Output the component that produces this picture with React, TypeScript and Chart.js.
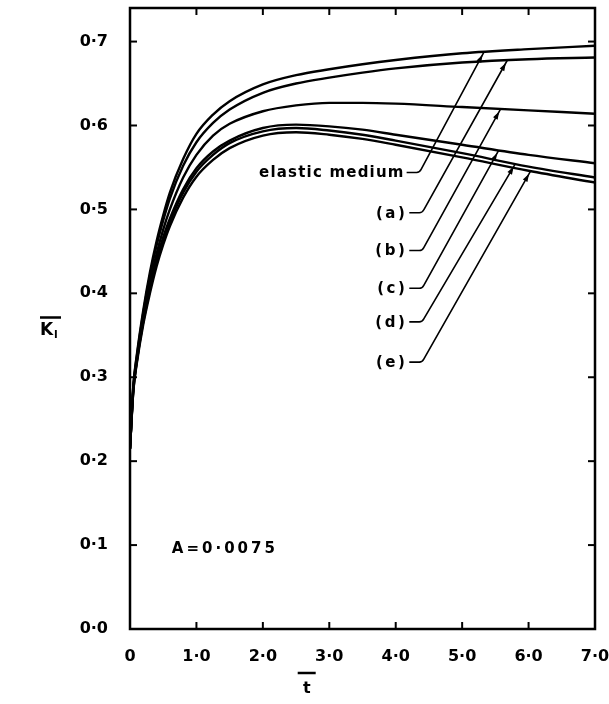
import React, { useEffect, useRef } from 'react';
import { Chart, registerables } from 'chart.js';

Chart.register(...registerables);

// ---- data ----
const T = [0, 0.05, 0.1, 0.2, 0.3, 0.4, 0.5, 0.6, 0.8, 1.0, 1.25, 1.5, 2.0, 2.5, 3.0, 3.5, 4.0, 5.0, 6.0, 7.0];
const elasticMedium = [0.215, 0.29, 0.325, 0.38, 0.425, 0.462, 0.493, 0.52, 0.56, 0.59, 0.613, 0.629, 0.649, 0.66, 0.667, 0.673, 0.678, 0.686, 0.691, 0.695];
const seriesA = [0.215, 0.289, 0.323, 0.377, 0.421, 0.457, 0.487, 0.513, 0.552, 0.58, 0.603, 0.619, 0.639, 0.65, 0.657, 0.663, 0.668, 0.675, 0.679, 0.681];
const seriesB = [0.215, 0.287, 0.32, 0.372, 0.413, 0.447, 0.476, 0.5, 0.538, 0.565, 0.588, 0.602, 0.617, 0.624, 0.627, 0.627, 0.626, 0.622, 0.618, 0.614];
const seriesC = [0.215, 0.285, 0.318, 0.368, 0.407, 0.44, 0.467, 0.489, 0.524, 0.549, 0.569, 0.582, 0.597, 0.601, 0.599, 0.595, 0.589, 0.577, 0.565, 0.555];
const seriesD = [0.215, 0.284, 0.317, 0.366, 0.404, 0.437, 0.463, 0.485, 0.52, 0.545, 0.565, 0.579, 0.593, 0.597, 0.594, 0.589, 0.582, 0.567, 0.551, 0.538];
const seriesE = [0.215, 0.283, 0.315, 0.363, 0.4, 0.432, 0.458, 0.48, 0.514, 0.539, 0.559, 0.573, 0.588, 0.592, 0.589, 0.584, 0.577, 0.562, 0.546, 0.532];

const seriesLabels = ['elastic medium', '(a)', '(b)', '(c)', '(d)', '(e)'];
const allSeries = [elasticMedium, seriesA, seriesB, seriesC, seriesD, seriesE];

// label leader: corner point (data units) and arrow tip time on the curve
const labelCornerT = [4.36, 4.4, 4.4, 4.4, 4.4, 4.4];
const labelCornerV = [0.544, 0.496, 0.451, 0.406, 0.366, 0.318];
const arrowTipT = [5.33, 5.68, 5.58, 5.55, 5.8, 6.03];

const xTicks = [0, 1, 2, 3, 4, 5, 6, 7];
const yTicks = [0, 0.1, 0.2, 0.3, 0.4, 0.5, 0.6, 0.7];
const xMax = 7;
const yMax = 0.74;
const noteText = 'A=0·0075';
const noteT = 0.63;
const noteV = 0.095;

const FONT = '"DejaVu Sans", sans-serif';

function interp(ts: number[], vs: number[], t: number): number {
  for (let i = 0; i < ts.length - 1; i++) {
    if (t >= ts[i] && t <= ts[i + 1]) {
      const f = (t - ts[i]) / (ts[i + 1] - ts[i]);
      return vs[i] + f * (vs[i + 1] - vs[i]);
    }
  }
  return vs[vs.length - 1];
}

const fmtX = (v: number) => (v === 0 ? '0' : v.toFixed(1).replace('.', '·'));
const fmtY = (v: number) => v.toFixed(1).replace('.', '·');

const decorPlugin = {
  id: 'decor',
  afterDatasetsDraw(chart: any) {
    const { ctx, chartArea: a, scales } = chart;
    const x = scales.x;
    const y = scales.y;
    ctx.save();
    ctx.strokeStyle = '#000';
    ctx.fillStyle = '#000';
    ctx.lineCap = 'butt';
    // frame
    ctx.lineWidth = 2.5;
    ctx.strokeRect(a.left, a.top, a.right - a.left, a.bottom - a.top);
    // inward ticks
    ctx.lineWidth = 2;
    const L = 7;
    const line = (x1: number, y1: number, x2: number, y2: number) => {
      ctx.beginPath();
      ctx.moveTo(x1, y1);
      ctx.lineTo(x2, y2);
      ctx.stroke();
    };
    xTicks.forEach((v) => {
      if (v <= 0 || v >= xMax) return;
      const px = x.getPixelForValue(v);
      line(px, a.bottom, px, a.bottom - L);
      line(px, a.top, px, a.top + L);
    });
    yTicks.forEach((v) => {
      if (v <= 0) return;
      const py = y.getPixelForValue(v);
      line(a.left, py, a.left + L, py);
      line(a.right, py, a.right - L, py);
    });

    // leader labels
    ctx.font = `bold 15px ${FONT}`;
    ctx.textBaseline = 'middle';
    ctx.textAlign = 'right';
    ctx.lineWidth = 1.6;
    seriesLabels.forEach((lab, i) => {
      const cx = x.getPixelForValue(labelCornerT[i]);
      const cy = y.getPixelForValue(labelCornerV[i]);
      const tx = x.getPixelForValue(arrowTipT[i]);
      const ty = y.getPixelForValue(interp(T, allSeries[i], arrowTipT[i]));
      const dash = 13;
      (ctx as any).letterSpacing = i === 0 ? '1.2px' : '2.5px';
      ctx.fillText(lab, cx - dash - 2, cy + 1);
      (ctx as any).letterSpacing = '0px';
      ctx.beginPath();
      ctx.moveTo(cx - dash, cy);
      ctx.lineTo(cx - 3, cy);
      ctx.quadraticCurveTo(cx, cy, cx + 1.5, cy - 3);
      ctx.lineTo(tx, ty);
      ctx.stroke();
      // arrowhead
      const ang = Math.atan2(ty - cy, tx - cx);
      const hx = tx - Math.cos(ang) * 3;
      const hy = ty - Math.sin(ang) * 3;
      const len = 8;
      const w = 2.6;
      ctx.beginPath();
      ctx.moveTo(hx, hy);
      ctx.lineTo(hx - Math.cos(ang) * len - Math.sin(ang) * w, hy - Math.sin(ang) * len + Math.cos(ang) * w);
      ctx.lineTo(hx - Math.cos(ang) * len + Math.sin(ang) * w, hy - Math.sin(ang) * len - Math.cos(ang) * w);
      ctx.closePath();
      ctx.fill();
    });

    // note
    ctx.textAlign = 'left';
    ctx.font = `bold 15px ${FONT}`;
    (ctx as any).letterSpacing = '3px';
    ctx.fillText(noteText, x.getPixelForValue(noteT), y.getPixelForValue(noteV));
    (ctx as any).letterSpacing = '0px';

    // y-axis title: K̄_I
    ctx.textAlign = 'left';
    ctx.textBaseline = 'alphabetic';
    ctx.font = `bold 17px ${FONT}`;
    const ky = (a.top + a.bottom) / 2 + 16;
    ctx.fillText('K', 40, ky);
    ctx.font = `bold 10px ${FONT}`;
    ctx.fillText('I', 54, ky + 3);
    ctx.lineWidth = 2.5;
    line(40, ky - 17, 61, ky - 17);

    // x-axis title: t̄
    ctx.font = `bold 16px ${FONT}`;
    ctx.textAlign = 'center';
    const tx0 = x.getPixelForValue(2.66);
    ctx.fillText('t', tx0, 693);
    line(tx0 - 9, 673, tx0 + 9, 673);
    ctx.restore();
  },
};

const zeroPad = (s: any) => {
  s.paddingTop = 0;
  s.paddingBottom = 0;
  s.paddingLeft = 0;
  s.paddingRight = 0;
};

export default function App() {
  const ref = useRef<HTMLCanvasElement | null>(null);
  useEffect(() => {
    if (!ref.current) return;
    const chart = new Chart(ref.current, {
      type: 'line',
      data: {
        datasets: allSeries.map((s, i) => ({
          label: seriesLabels[i],
          data: T.map((t, j) => ({ x: t, y: s[j] })),
          borderColor: '#000',
          borderWidth: 2.4,
          pointRadius: 0,
          fill: false,
          cubicInterpolationMode: 'monotone' as const,
        })),
      },
      options: {
        responsive: false,
        devicePixelRatio: 1,
        animation: false,
        layout: { padding: { top: 8, right: 14, left: 0, bottom: 0 } },
        plugins: { legend: { display: false }, tooltip: { enabled: false } },
        scales: {
          x: {
            type: 'linear',
            min: 0,
            max: xMax,
            grid: { display: false, drawTicks: false },
            border: { display: false },
            afterBuildTicks: (s: any) => {
              s.ticks = xTicks.map((v) => ({ value: v }));
            },
            afterFit: (s: any) => {
              s.height = 75;
              zeroPad(s);
            },
            ticks: {
              padding: 18,
              color: '#000',
              maxRotation: 0,
              autoSkip: false,
              font: { family: FONT, size: 16, weight: 'bold' },
              callback: (v: any) => fmtX(Number(v)),
            },
          },
          y: {
            type: 'linear',
            min: 0,
            max: yMax,
            grid: { display: false, drawTicks: false },
            border: { display: false },
            afterBuildTicks: (s: any) => {
              s.ticks = yTicks.map((v) => ({ value: v }));
            },
            afterFit: (s: any) => {
              s.width = 130;
              zeroPad(s);
            },
            ticks: {
              padding: 22,
              color: '#000',
              autoSkip: false,
              font: { family: FONT, size: 16, weight: 'bold' },
              callback: (v: any) => fmtY(Number(v)),
            },
          },
        },
      },
      plugins: [decorPlugin],
    });
    return () => chart.destroy();
  }, []);
  return (
    <div style={{ position: 'absolute', left: 0, top: 0, width: 609, height: 704, background: '#fff' }}>
      <canvas ref={ref} width={609} height={704} />
    </div>
  );
}
